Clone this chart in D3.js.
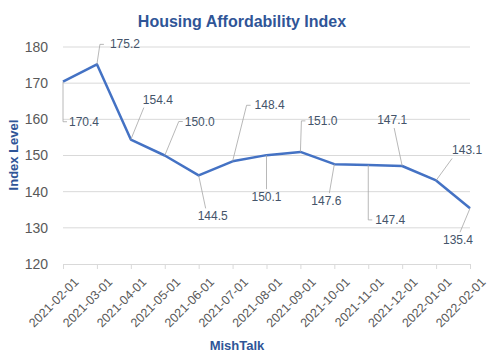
<!DOCTYPE html>
<html><head><meta charset="utf-8">
<script src="https://cdn.jsdelivr.net/npm/d3@7"></script>
<style>body{margin:0;background:#fff;} svg{display:block;font-family:"Liberation Sans",Arial,sans-serif;}</style>
</head><body>
<svg id="c" width="500" height="356"></svg>
<script>
const dates = ["2021-02-01","2021-03-01","2021-04-01","2021-05-01","2021-06-01","2021-07-01","2021-08-01","2021-09-01","2021-10-01","2021-11-01","2021-12-01","2022-01-01","2022-02-01"];
const values = [170.4,175.2,154.4,150.0,144.5,148.4,150.1,151.0,147.6,147.4,147.1,143.1,135.4];
const yTicks = [120,130,140,150,160,170,180];
// label leader-line layout relative to each point
const labelLayout = [
  {ex:0, ey:40, tx:6},
  {ex:3, ey:-20, tx:10},
  {ex:13, ey:-32, tx:-1, above:true},
  {ex:14, ey:-34, tx:6},
  {ex:7, ey:33, tx:-8, below:true},
  {ex:14, ey:-56, tx:8},
  {ex:0, ey:34, tx:-15, below:true},
  {ex:1, ey:-31, tx:6},
  {ex:-5, ey:29, tx:-18, below:true},
  {ex:0, ey:55, tx:7},
  {ex:-8, ey:-38, tx:-17, above:true},
  {ex:16, ey:-22, tx:0, above:true},
  {ex:-10, ey:24, tx:-17, below:true}
];

(function(){
const svg = d3.select("#c");
const mLeft = 63, mRight = 470, mTop = 47, mBottom = 264;
const x = d3.scalePoint().domain(dates).range([mLeft, mRight]);
const y = d3.scaleLinear().domain([120,180]).range([mBottom, mTop]);

svg.append("g").selectAll("line").data(yTicks.filter(t=>t>120)).join("line")
  .attr("x1", mLeft).attr("x2", mRight)
  .attr("y1", d=>y(d)).attr("y2", d=>y(d))
  .attr("stroke", "#d9d9d9").attr("stroke-width", 1);

const yAxis = d3.axisLeft(y).tickValues(yTicks).tickSize(0).tickPadding(15);
const gy = svg.append("g").attr("transform", `translate(${mLeft},0)`).call(yAxis);
gy.select(".domain").remove();
gy.selectAll("text").attr("font-size", 14).attr("fill", "#595959").attr("font-family", "Liberation Sans, Arial, sans-serif");

const xAxis = d3.axisBottom(x).tickSize(5).tickSizeOuter(0);
const gx = svg.append("g").attr("transform", `translate(0,${mBottom})`).call(xAxis);
gx.select(".domain").attr("stroke", "#d9d9d9");
gx.selectAll(".tick line").attr("stroke", "#d9d9d9");
gx.selectAll("text").attr("font-size", 12.5).attr("fill", "#595959")
  .attr("font-family", "Liberation Sans, Arial, sans-serif")
  .attr("text-anchor", "end")
  .attr("transform", "translate(4,7) rotate(-45)")
  .attr("dy", "0.7em").attr("dx", "0");

const line = d3.line().x((d,i)=>x(dates[i])).y(d=>y(d));
svg.append("path").datum(values).attr("d", line)
  .attr("fill", "none").attr("stroke", "#4472c4").attr("stroke-width", 2.5)
  .attr("stroke-linejoin", "round");

const lg = svg.append("g");
values.forEach((v,i)=>{
  const px = x(dates[i]), py = y(v);
  const L = labelLayout[i];
  const ex = px + L.ex, ey = py + L.ey;
  const pts = [[px,py],[ex,ey]];
  let tx, ty;
  if (L.above) {
    tx = ex + L.tx; ty = ey - 4;
  } else if (L.below) {
    tx = ex + L.tx; ty = ey + 12;
  } else {
    pts.push([ex+4, ey]);
    tx = ex + L.tx; ty = ey + 4;
  }
  lg.append("path").attr("d", d3.line()(pts)).attr("fill","none")
    .attr("stroke", "#a6a6a6").attr("stroke-width", 0.8);
  lg.append("text").attr("x", tx).attr("y", ty).text(v.toFixed(1))
    .attr("font-size", 12).attr("fill", "#44546a");
});

svg.append("text").attr("x", 242).attr("y", 27).attr("text-anchor","middle")
  .attr("font-size", 16).attr("font-weight","bold").attr("fill","#2f5597")
  .text("Housing Affordability Index");
svg.append("text").attr("transform","translate(18,155) rotate(-90)").attr("text-anchor","middle")
  .attr("font-size", 13).attr("font-weight","bold").attr("fill","#2f5597")
  .text("Index Level");
svg.append("text").attr("x", 237).attr("y", 350).attr("text-anchor","middle")
  .attr("font-size", 13).attr("font-weight","bold").attr("fill","#2f5597")
  .text("MishTalk");
})();
</script>
</body></html>
